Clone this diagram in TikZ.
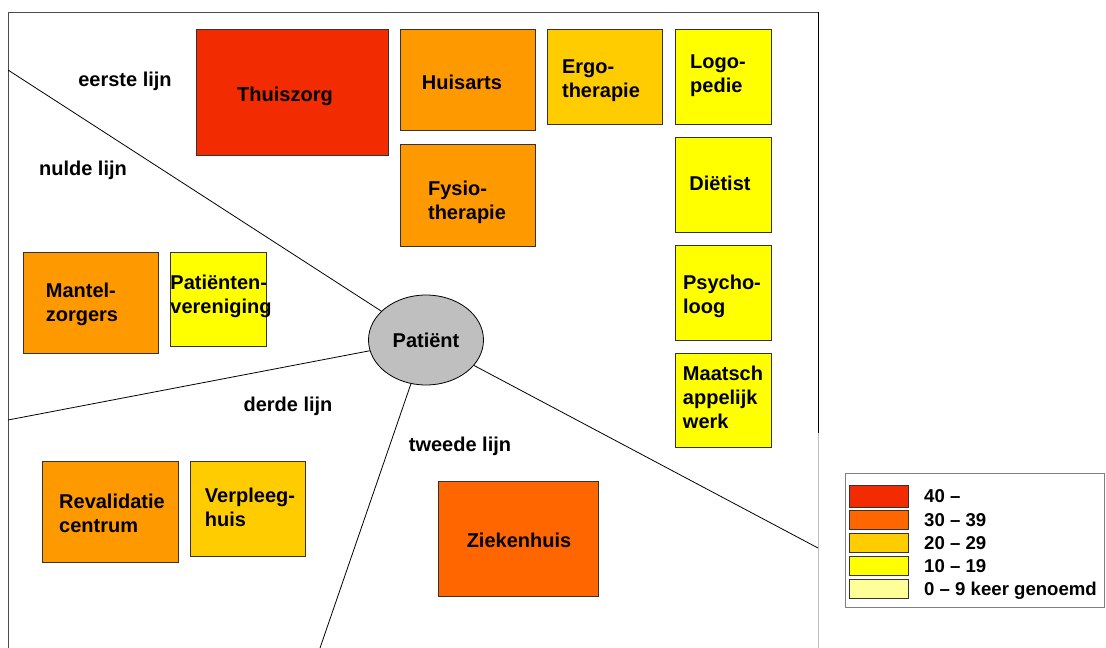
\documentclass[tikz,border=0pt]{standalone}
\usepackage{fontspec}
\setmainfont{Liberation Sans}
\usepackage{tikz}
\usetikzlibrary{shapes.geometric}

\definecolor{rood}{RGB}{242,43,0}
\definecolor{donkeroranje}{RGB}{255,102,0}
\definecolor{oranje}{RGB}{255,153,0}
\definecolor{goud}{RGB}{255,204,0}
\definecolor{geel}{RGB}{255,255,0}
\definecolor{lichtgeel}{RGB}{255,255,153}

\begin{document}
\begin{tikzpicture}[x=1pt, y=-1pt,
    every node/.style={font=\bfseries\fontsize{20}{24}\selectfont},
    vak/.style={rectangle, draw=black!80, line width=0.8pt, anchor=north west, inner sep=0pt},
    tekst/.style={align=left, inner sep=0pt},
    legtekst/.style={anchor=base west, inner sep=0pt, font=\bfseries\fontsize{18.6}{22}\selectfont},
    lijn/.style={line width=0.8pt}]
    \useasboundingbox (0,0) rectangle (1106,648);

    % kader
    \coordinate (lb) at (8,648);
    \coordinate (lt) at (8,12);
    \coordinate (rt) at (818,12);
    \coordinate (rm) at (818,433);
    \coordinate (ro) at (818,648);
    \draw[line width=1pt, black!70] (lb) -- (lt) -- (rt);
    \draw[line width=1pt] (rt) -- (rm);
    \draw[line width=0.8pt, black!25] (rm) -- (ro);

    \node[ellipse, draw, lijn, fill=black!25, minimum width=115pt, minimum height=90pt] at (426,340) (pat) {Patiënt};

    \coordinate (nul) at (8,70);
    \coordinate (derde) at (8,420);
    \coordinate (onder) at (320,648);
    \coordinate (rechts) at (818,548);

    \draw[lijn] (pat) -- (nul);
    \draw[lijn] (pat) -- (derde);
    \draw[lijn] (pat) -- (onder);
    \draw[lijn] (pat) -- (rechts);

    \node[tekst] at (125,81) (eerste) {eerste lijn};
    \node[tekst] at (83,170) (nulde) {nulde lijn};
    \node[tekst] at (288,406) (derdel) {derde lijn};
    \node[tekst] at (460,446) (tweede) {tweede lijn};

    % eerste lijn
    \node[vak, fill=rood, minimum width=192pt, minimum height=126pt] at (196,29) (thuis) {};
    \node[tekst] at (285,96) (thuist) {Thuiszorg};
    \node[vak, fill=oranje, minimum width=135pt, minimum height=101pt] at (400,29) (huis) {};
    \node[tekst] at (462,82) (huist) {Huisarts};
    \node[vak, fill=oranje, minimum width=135pt, minimum height=102pt] at (400,144) (fysio) {};
    \node[tekst] at (467,202) (fysiot) {Fysio-\\therapie};
    \node[vak, fill=goud, minimum width=115pt, minimum height=95pt] at (547,29) (ergo) {};
    \node[tekst] at (601,81) (ergot) {Ergo-\\therapie};
    \node[vak, fill=geel, minimum width=96pt, minimum height=95pt] at (675,29) (logo) {};
    \node[tekst] at (718,76) (logot) {Logo-\\pedie};
    \node[vak, fill=geel, minimum width=96pt, minimum height=95pt] at (675,137) (diet) {};
    \node[tekst] at (720,183) (diett) {Diëtist};
    \node[vak, fill=geel, minimum width=96pt, minimum height=95pt] at (675,245) (psy) {};
    \node[tekst] at (722,296) (psyt) {Psycho-\\loog};
    \node[vak, fill=geel, minimum width=96pt, minimum height=94pt] at (675,353) (maat) {};
    \node[tekst] at (723,397) (maatt) {Maatsch\\appelijk\\werk};

    % nulde lijn
    \node[vak, fill=oranje, minimum width=135pt, minimum height=101pt] at (23,252) (mantel) {};
    \node[tekst] at (82,304) (mantelt) {Mantel-\\zorgers};
    \node[vak, fill=geel, minimum width=96pt, minimum height=94pt] at (170,252) (pver) {};
    \node[tekst] at (221,296) (pvert) {Patiënten-\\vereniging};

    % derde lijn
    \node[vak, fill=oranje, minimum width=136pt, minimum height=101pt] at (42,461) (reva) {};
    \node[tekst] at (112,513) (revat) {Revalidatie\\centrum};
    \node[vak, fill=goud, minimum width=115pt, minimum height=95pt] at (190,461) (verpl) {};
    \node[tekst] at (250,507) (verplt) {Verpleeg-\\huis};

    % tweede lijn
    \node[vak, fill=donkeroranje, minimum width=160pt, minimum height=115pt] at (438,481) (zieken) {};
    \node[tekst] at (519,540) (ziekent) {Ziekenhuis};

    % legenda
    \node[vak, draw=black!50, fill=white, minimum width=259pt, minimum height=134pt] at (845,473) (legenda) {};
    \node[vak, fill=rood, minimum width=59pt, minimum height=22pt] at (849,485) (l40) {};
    \node[vak, fill=donkeroranje, minimum width=59pt, minimum height=19pt] at (849,510) (l30) {};
    \node[vak, fill=goud, minimum width=59pt, minimum height=19pt] at (849,533) (l20) {};
    \node[vak, fill=geel, minimum width=59pt, minimum height=19pt] at (849,556) (l10) {};
    \node[vak, fill=lichtgeel, minimum width=59pt, minimum height=19pt] at (849,579) (l0) {};
    \node[legtekst] at (924,502) (t40) {40 –};
    \node[legtekst] at (924,526) (t30) {30 – 39};
    \node[legtekst] at (924,549) (t20) {20 – 29};
    \node[legtekst] at (924,572) (t10) {10 – 19};
    \node[legtekst] at (924,595) (t0) {0 – 9 keer genoemd};
\end{tikzpicture}
\end{document}
